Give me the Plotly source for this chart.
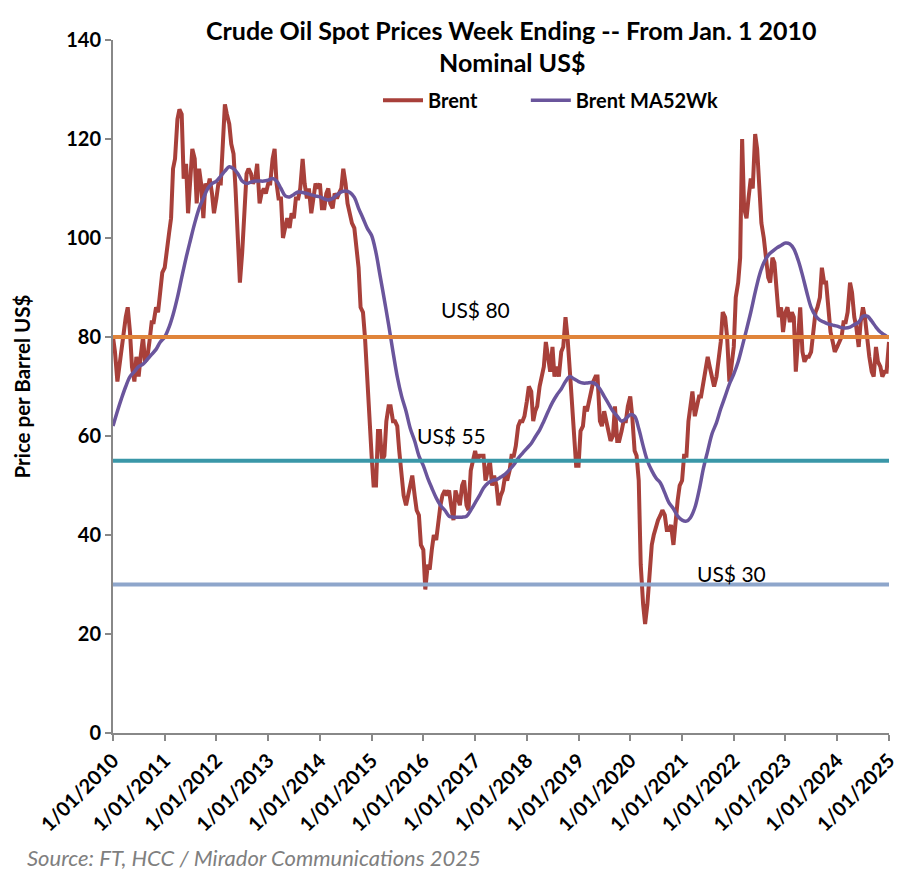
import pandas as pd
import plotly.graph_objects as go

# ---------------- data ----------------
brent_2010 = [80,77,71,74,78,80,84,86,81,74,71,76,72,76,80,75,76,79,83,83,86,85,90,93]
brent_2011 = [94,98,101,104,114,116,124,126,125,112,115,105,112,118,116,107,114,111,104,111,110,112,109,105]
brent_2012 = [108,111,111,118,127,125,123,119,117,110,99,91,97,106,113,114,113,111,112,115,107,109,110,109]
brent_2013 = [111,111,116,118,111,108,108,100,102,104,102,105,104,108,108,110,116,111,108,110,105,108,111,110]
brent_2014 = [111,106,106,109,110,107,106,109,108,109,110,114,111,107,105,103,102,98,94,86,85,80,71,62]
brent_2015 = [56,50,50,61,61,55,56,63,66,66,63,63,62,57,52,48,46,48,50,52,48,45,44,38]
brent_2016 = [37,29,34,33,37,40,39,43,46,48,49,48,49,46,43,49,47,46,50,51,46,45,53,55]
brent_2017 = [57,55,56,56,56,51,53,55,50,52,50,46,48,49,52,51,53,56,56,58,62,63,63,64]
brent_2018 = [67,70,69,63,65,66,70,72,74,79,76,73,78,72,74,72,77,78,84,80,73,66,59,54]
brent_2019 = [54,61,62,66,65,67,69,71,72,72,63,62,65,63,61,59,60,66,59,59,61,63,63,66]
brent_2020 = [68,64,57,56,51,34,26,22,26,33,38,40,42,43,44,45,44,41,41,42,38,43,47,50]
brent_2021 = [51,56,56,63,66,69,64,66,68,68,71,73,76,74,72,70,72,75,79,85,84,80,71,74]
brent_2022 = [78,88,91,96,120,106,104,108,112,110,121,118,110,103,100,96,92,91,96,95,90,84,86,81]
brent_2023 = [85,86,83,85,84,73,80,86,77,75,76,76,77,80,85,86,88,94,91,91,86,81,79,77]
brent_2024 = [78,79,80,83,83,85,91,89,84,82,78,83,86,84,79,76,73,72,78,75,74,72,73,73]
brent_2025 = [79]

ma_2010 = [62,65,67.5,70,72,73,74,74.5,75.5,76.5,77.5,79]
ma_2011 = [80,82,84.5,88,92,96,99.5,103,106,108,110,111]
ma_2012 = [111.5,112.5,113.5,114.4,114,113,111.5,111,111.3,111.5,111.5,111.5]
ma_2013 = [111.7,112,111.5,110,108.5,108.3,108.8,109.3,109.2,109,108.7,108.5]
ma_2014 = [108.3,107.9,107.7,108,108.7,109.3,109.5,109.2,108.2,106,104,102]
ma_2015 = [100.5,97,92.5,87.5,82.5,77,72,68,65,61.5,59,56]
ma_2016 = [54,51.5,49.5,47.5,46,45,43.8,43.6,43.6,43.6,43.8,45]
ma_2017 = [46.5,48,49.5,50.5,51,51.2,51.7,52.3,53.2,54.2,55.5,56.5]
ma_2018 = [57.5,58.5,59.8,61.2,63,65,66.8,68.3,69.5,71,72,71.5]
ma_2019 = [71,70.7,70.7,70.8,70.5,69.5,68,66.5,65,64,63,63.5]
ma_2020 = [64.3,64,61.5,58,55,53,51.5,50.5,48.5,46.5,45.3,43.8]
ma_2021 = [43,42.8,43.5,45.5,49,53.5,57,60.5,62.7,65.5,68,70.5]
ma_2022 = [72.5,75,78,81.5,85,89,92.5,95,96.5,97.3,98,98.5]
ma_2023 = [99,98.8,97.8,95.5,92.5,89,86,84.3,83.4,83,82.6,82.4]
ma_2024 = [82.2,81.9,81.8,82,82.5,83,84.2,84.2,83.2,82,81,80.4]
ma_2025 = [79.8]

levels = [80, 55, 30]
level_labels = ["US$ 80", "US$ 55", "US$ 30"]
level_label_x = ["2017-01-01", "2016-07-20", "2021-12-15"]
level_label_y = [85.5, 60.2, 32.3]

brent_values = (brent_2010 + brent_2011 + brent_2012 + brent_2013 + brent_2014 +
                brent_2015 + brent_2016 + brent_2017 + brent_2018 + brent_2019 +
                brent_2020 + brent_2021 + brent_2022 + brent_2023 + brent_2024 + brent_2025)
ma_values = (ma_2010 + ma_2011 + ma_2012 + ma_2013 + ma_2014 + ma_2015 + ma_2016 +
             ma_2017 + ma_2018 + ma_2019 + ma_2020 + ma_2021 + ma_2022 + ma_2023 +
             ma_2024 + ma_2025)

brent_dates = list(pd.date_range("2010-01-01", "2024-12-15", freq="SMS")) + [pd.Timestamp("2025-01-01")]
ma_dates = list(pd.date_range("2010-01-01", "2025-01-01", freq="MS"))

FONT = "Lato"
level_colors = ["#E0843A", "#3A97A8", "#8EA6CB"]

fig = go.Figure()
fig.add_trace(go.Scatter(x=brent_dates, y=brent_values, mode="lines", name="Brent",
                         line=dict(color="#A8403A", width=4), legend="legend"))
fig.add_trace(go.Scatter(x=ma_dates, y=ma_values, mode="lines", name="Brent MA52Wk",
                         line=dict(color="#6A559C", width=3.5, shape="spline"),
                         legend="legend2"))

for lv, col in zip(levels, level_colors):
    fig.add_shape(type="line", xref="paper", x0=0, x1=1, yref="y", y0=lv, y1=lv,
                  line=dict(color=col, width=4), layer="above")

for txt, xx, yy in zip(level_labels, level_label_x, level_label_y):
    fig.add_annotation(x=xx, y=yy, text=txt, showarrow=False,
                       xanchor="center", yanchor="middle",
                       font=dict(family=FONT, size=21, color="#000000"))

fig.add_annotation(xref="paper", yref="paper", x=0.514, y=1.0144,
                   xanchor="center", yanchor="middle",
                   text="<b>Crude Oil Spot Prices Week Ending -- From Jan. 1 2010</b>",
                   showarrow=False, font=dict(family=FONT, size=25, color="#000000"))
fig.add_annotation(xref="paper", yref="paper", x=0.514, y=0.968,
                   xanchor="center", yanchor="middle",
                   text="<b>Nominal US$</b>",
                   showarrow=False, font=dict(family=FONT, size=25, color="#000000"))
fig.add_annotation(xref="paper", yref="paper", x=-0.1173, y=0.5,
                   xanchor="center", yanchor="middle",
                   text="<b>Price per Barrel US$</b>", textangle=-90,
                   showarrow=False, font=dict(family=FONT, size=20.5, color="#000000"))
fig.add_annotation(xref="paper", yref="paper", x=-0.113, y=-0.180,
                   xanchor="left", yanchor="middle",
                   text="<i>Source: FT, HCC / Mirador Communications 2025</i>",
                   showarrow=False, font=dict(family=FONT, size=22, color="#7F7F7F"))

legend_font = dict(family=FONT, size=20, color="#000000", weight="bold")
fig.update_layout(
    width=914, height=864,
    margin=dict(l=105, r=33, t=32, b=139),
    plot_bgcolor="white", paper_bgcolor="white",
    showlegend=True,
    legend=dict(orientation="h", x=0.3415, y=0.913, xanchor="left", yanchor="middle",
                font=legend_font, bgcolor="rgba(0,0,0,0)", itemwidth=40),
    legend2=dict(orientation="h", x=0.532, y=0.913, xanchor="left", yanchor="middle",
                 font=legend_font, bgcolor="rgba(0,0,0,0)", itemwidth=40),
    xaxis=dict(type="date", range=["2010-01-01", "2025-01-01"],
               tickmode="array",
               tickvals=[f"{y}-01-01" for y in range(2010, 2026)],
               tickformat="%-d/%m/%Y", tickangle=-45,
               tickfont=dict(family=FONT, size=20, color="#000000", weight="bold"),
               showline=True, linecolor="#888888", linewidth=2,
               ticks="outside", ticklen=6, tickcolor="#888888", tickwidth=2,
               showgrid=False, zeroline=False),
    yaxis=dict(range=[0, 140], tickvals=[0, 20, 40, 60, 80, 100, 120, 140],
               tickfont=dict(family=FONT, size=20, color="#000000", weight="bold"),
               showline=True, linecolor="#888888", linewidth=2,
               ticks="outside", ticklen=6, tickcolor="#888888", tickwidth=2,
               showgrid=False, zeroline=False),
)

fig.write_html("out.html")
